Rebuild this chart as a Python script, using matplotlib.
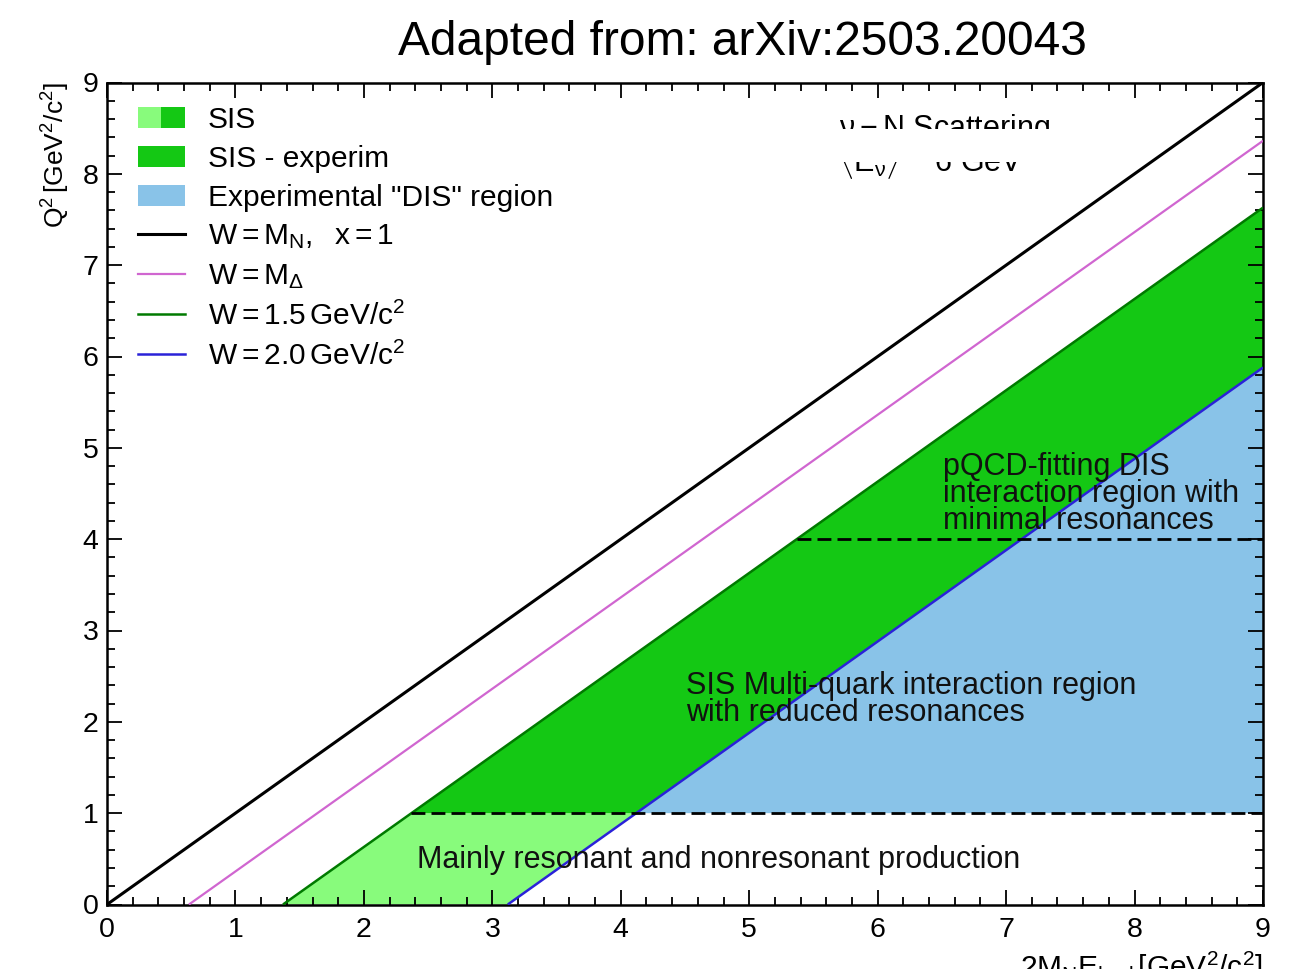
import matplotlib
matplotlib.use("Agg")
import matplotlib.pyplot as plt
import numpy as np
from matplotlib.patches import Patch, Rectangle
from matplotlib.lines import Line2D
from matplotlib.legend_handler import HandlerTuple
from matplotlib.ticker import MultipleLocator

plt.rcParams['font.family'] = ['Liberation Sans', 'DejaVu Sans']
plt.rcParams['mathtext.fontset'] = 'custom'
plt.rcParams['mathtext.rm'] = 'Liberation Sans'
plt.rcParams['mathtext.it'] = 'Liberation Sans'

# Masses (GeV/c^2)
M_N = 0.938
M_DELTA = 1.232
W_VALUES = [M_N, M_DELTA, 1.5, 2.0]
W_LABELS = [r"$\mathrm{W = M_N,\ \ x = 1}$", r"$\mathrm{W = M_\Delta}$",
            r"$\mathrm{W = 1.5\,GeV/c^2}$", r"$\mathrm{W = 2.0\,GeV/c^2}$"]
W_COLORS = ["#000000", "#d066d0", "#007a00", "#2a22d8"]
W_WIDTHS = [2.2, 1.6, 1.8, 1.8]

Q2_CUTS = [1.0, 4.0]          # Q^2 boundaries (GeV^2/c^2)
X_RANGE = [0.0, 9.0]          # 2 M_N E_had range
Y_RANGE = [0.0, 9.0]

C_LIGHT = "#88fb7c"
C_GREEN = "#14c814"
C_BLUE = "#89c3e8"


def q2_of(x, w):
    # Q^2 = 2 M_N E_had - (W^2 - M_N^2)
    return x - (w ** 2 - M_N ** 2)


def x_of(q2, w):
    return q2 + (w ** 2 - M_N ** 2)


fig = plt.figure(figsize=(12.92, 9.69), dpi=100)
ax = fig.add_axes([107 / 1292, 1 - 904.5 / 969, (1263 - 107) / 1292, (904.5 - 82.5) / 969])

w15, w20 = W_VALUES[2], W_VALUES[3]
xmax = X_RANGE[1]

# Light green: resonance-dominated part of the SIS band (Q^2 < 1)
ax.fill([x_of(0, w15), x_of(Q2_CUTS[0], w15), x_of(Q2_CUTS[0], w20), x_of(0, w20)],
        [0, Q2_CUTS[0], Q2_CUTS[0], 0], color=C_LIGHT, lw=0, zorder=1)
# Green: SIS band above Q^2 = 1
ax.fill([x_of(Q2_CUTS[0], w15), xmax, xmax, x_of(Q2_CUTS[0], w20)],
        [Q2_CUTS[0], q2_of(xmax, w15), q2_of(xmax, w20), Q2_CUTS[0]],
        color=C_GREEN, lw=0, zorder=1)
# Blue: experimental DIS region
ax.fill([x_of(Q2_CUTS[0], w20), xmax, xmax],
        [Q2_CUTS[0], q2_of(xmax, w20), Q2_CUTS[0]],
        color=C_BLUE, lw=0, zorder=1)

# Constant-W lines
line_handles = []
for w, lab, c, lw in zip(W_VALUES, W_LABELS, W_COLORS, W_WIDTHS):
    xs = np.array([x_of(0, w), xmax])
    ax.plot(xs, q2_of(xs, w), color=c, lw=lw, zorder=3, solid_capstyle='butt')
    line_handles.append(Line2D([], [], color=c, lw=lw))

# Dashed Q^2 boundaries
for q in Q2_CUTS:
    ax.plot([x_of(q, w15), xmax], [q, q], color="black", lw=2.0,
            ls=(0, (5, 2.2)), zorder=4)

# Region annotations
ax.text(6.51, 4.495, "pQCD-fitting DIS\ninteraction region with\nminimal resonances",
        fontsize=22, va='center', ha='left', linespacing=0.88, color="#111111", zorder=5)
ax.text(4.51, 2.245, "SIS Multi-quark interaction region\nwith reduced resonances",
        fontsize=22, va='center', ha='left', linespacing=0.88, color="#111111", zorder=5)
ax.text(2.41, 0.487, "Mainly resonant and nonresonant production",
        fontsize=22, va='center', ha='left', color="#111111", zorder=5)

# Process label, partly covered
ax.text(5.7, 8.40, r"$\mathrm{\nu - N\ Scattering}$", fontsize=22, va='baseline',
        ha='left', zorder=5)
ax.text(5.7, 8.03, r"$\mathrm{\langle E_\nu\rangle}$ ~ 6 GeV", fontsize=22,
        va='baseline', ha='left', zorder=5)
ax.add_patch(Rectangle((5.66, 8.132), 1.78, 0.361, color="white", lw=0, zorder=6))

ax.set_xlim(*X_RANGE)
ax.set_ylim(*Y_RANGE)
ax.xaxis.set_major_locator(MultipleLocator(1))
ax.xaxis.set_minor_locator(MultipleLocator(0.2))
ax.yaxis.set_major_locator(MultipleLocator(1))
ax.yaxis.set_minor_locator(MultipleLocator(0.2))
ax.tick_params(which='both', direction='in', top=True, right=True, width=1.3,
               labelsize=20.5, colors='black')
ax.tick_params(which='major', length=11)
ax.tick_params(which='minor', length=5.5)
ax.tick_params(axis='x', pad=9)
ax.tick_params(axis='y', pad=6)
for sp in ax.spines.values():
    sp.set_linewidth(1.8)

ax.set_ylabel(r"$\mathrm{Q^2\,[GeV^2/c^2]}$", fontsize=19, loc='top', labelpad=8)
ax.set_xlabel(r"$\mathrm{2M_NE_{had}\,[GeV^2/c^2]}$", fontsize=21.5, loc='right', labelpad=5)

# Legend
p_light = Patch(facecolor=C_LIGHT, edgecolor='none')
p_green = Patch(facecolor=C_GREEN, edgecolor='none')
p_blue = Patch(facecolor=C_BLUE, edgecolor='none')
handles = [(p_light, p_green), p_green, p_blue] + line_handles
labels = ["SIS", "SIS - experim", 'Experimental "DIS" region'] + W_LABELS
leg = ax.legend(handles, labels, loc='upper left', bbox_to_anchor=(0.0268, 0.971),
                frameon=False, fontsize=21.5, handlelength=1.57, handleheight=0.7,
                handletextpad=0.77, labelspacing=0.36, borderpad=0, borderaxespad=0,
                handler_map={tuple: HandlerTuple(ndivide=2, pad=0)})
leg.set_zorder(7)

fig.text(742 / 1292, 0.956, "Adapted from: arXiv:2503.20043", fontsize=34.5,
         ha='center', va='center')

fig.savefig("out.png", dpi=100)
